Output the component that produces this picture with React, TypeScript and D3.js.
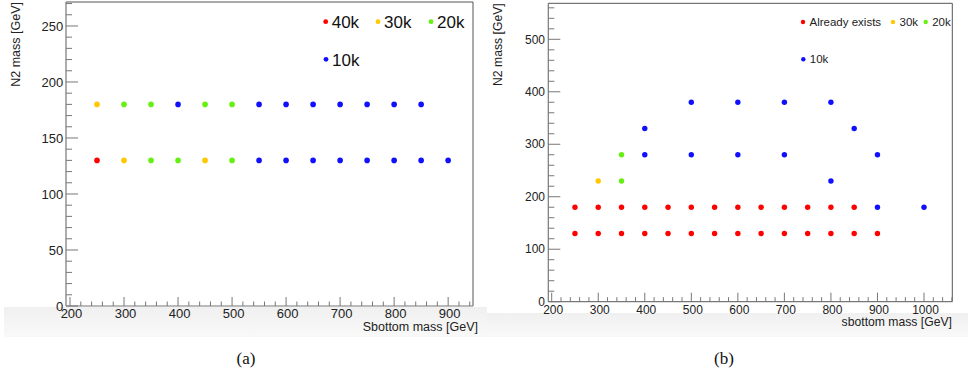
import React from "react";
import * as d3 from "d3";

// ---- Data ----
// Panel (a): sbottom mass vs N2 mass, colour = statistics requested
const aRed40k: [number, number][] = [[250, 130]];
const aYellow30k: [number, number][] = [[250, 180], [300, 130], [450, 130]];
const aGreen20k: [number, number][] = [
  [300, 180], [350, 180], [350, 130], [400, 130], [450, 180], [500, 180], [500, 130],
];
const aBlue10k: [number, number][] = [
  [400, 180], [550, 180], [600, 180], [650, 180], [700, 180], [750, 180], [800, 180], [850, 180],
  [550, 130], [600, 130], [650, 130], [700, 130], [750, 130], [800, 130], [850, 130], [900, 130],
];

// Panel (b)
const bRedExists: [number, number][] = [
  [250, 180], [300, 180], [350, 180], [400, 180], [450, 180], [500, 180], [550, 180], [600, 180],
  [650, 180], [700, 180], [750, 180], [800, 180], [850, 180],
  [250, 130], [300, 130], [350, 130], [400, 130], [450, 130], [500, 130], [550, 130], [600, 130],
  [650, 130], [700, 130], [750, 130], [800, 130], [850, 130], [900, 130],
];
const bYellow30k: [number, number][] = [[300, 230]];
const bGreen20k: [number, number][] = [[350, 280], [350, 230]];
const bBlue10k: [number, number][] = [
  [400, 330], [400, 280], [500, 380], [500, 280], [600, 380], [600, 280], [700, 380], [700, 280],
  [800, 380], [800, 230], [850, 330], [900, 280], [900, 180], [1000, 180],
];

const aYTicks = [0, 50, 100, 150, 200, 250];
const aXTicks = [200, 300, 400, 500, 600, 700, 800, 900];
const bYTicks = [0, 100, 200, 300, 400, 500];
const bXTicks = [200, 300, 400, 500, 600, 700, 800, 900, 1000];

const RED = "#ff0000";
const YELLOW = "#ffc800";
const GREEN = "#66f011";
const BLUE = "#1010ff";

const FONT = "'Liberation Sans', Arial, Helvetica, sans-serif";
const AXIS = "#777";
const FRAME = "#555";
const TXT = "#222";

type Series = { pts: [number, number][]; color: string };

function Panel(props: {
  x: d3.ScaleLinear<number, number>;
  y: d3.ScaleLinear<number, number>;
  xTicks: number[];
  yTicks: number[];
  xMinorStep: number;
  yMinorStep: number;
  xMinorMax: number;
  yMinorMax: number;
  tickFont: number;
  xLabelBaseline: number;
  yLabelX: number;
  series: Series[];
  r: number;
  yTitle: string;
  yTitleX: number;
  xTitle: string;
  xTitleX: number;
  xTitleY: number;
  titleFont: number;
}) {
  const { x, y } = props;
  const [x0, x1] = x.range();
  const [yb, yt] = y.range();
  const xMinor = d3.range(200, props.xMinorMax + 0.01, props.xMinorStep);
  const yMinor = d3.range(0, props.yMinorMax + 0.01, props.yMinorStep);
  return (
    <g>
      {/* frame */}
      <line x1={x0} x2={x1} y1={yt} y2={yt} stroke={FRAME} strokeWidth={1} />
      <line x1={x1} x2={x1} y1={yt} y2={yb} stroke={FRAME} strokeWidth={1} />
      {/* axes */}
      <line x1={x0} x2={x1} y1={yb} y2={yb} stroke={AXIS} strokeWidth={1.2} />
      <line x1={x0} x2={x0} y1={yt} y2={yb} stroke={AXIS} strokeWidth={1.2} />
      {/* y ticks */}
      {yMinor.map((v) => (
        <line key={"ym" + v} x1={x0} x2={x0 + (props.yTicks.includes(v) ? 12 : 6)} y1={y(v)} y2={y(v)} stroke={AXIS} strokeWidth={1} />
      ))}
      {/* x ticks */}
      {xMinor.map((v) => (
        <line key={"xm" + v} x1={x(v)} x2={x(v)} y1={yb} y2={yb - (props.xTicks.includes(v) ? 9 : 4.5)} stroke={AXIS} strokeWidth={1} />
      ))}
      {props.yTicks.map((v) => (
        <text key={"yl" + v} x={props.yLabelX} y={y(v)} dy="0.35em" textAnchor="end" fontFamily={FONT} fontSize={props.tickFont} fill={TXT}>
          {v}
        </text>
      ))}
      {props.xTicks.map((v) => (
        <text key={"xl" + v} x={x(v) + 1.5} y={props.xLabelBaseline} textAnchor="middle" fontFamily={FONT} fontSize={props.tickFont} fill={TXT}>
          {v}
        </text>
      ))}
      {/* titles */}
      <text transform={`translate(${props.yTitleX},${yt}) rotate(-90)`} textAnchor="end" fontFamily={FONT} fontSize={props.titleFont} fill={TXT}>
        {props.yTitle}
      </text>
      <text x={props.xTitleX} y={props.xTitleY} textAnchor="end" fontFamily={FONT} fontSize={props.titleFont} fill={TXT}>
        {props.xTitle}
      </text>
      {/* markers */}
      {props.series.map((s, i) =>
        s.pts.map(([a, b], j) => <circle key={i + "-" + j} cx={x(a)} cy={y(b)} r={props.r} fill={s.color} />)
      )}
    </g>
  );
}

export default function App() {
  const ax = d3.scaleLinear().domain([192.6, 946]).range([66, 473]);
  const ay = d3.scaleLinear().domain([0, 271.4]).range([306, 2]);
  const bx = d3.scaleLinear().domain([192.7, 1060.8]).range([548.3, 952.3]);
  const by = d3.scaleLinear().domain([0, 568.6]).range([301.7, 3.3]);

  const legendA = [
    { label: "40k", color: RED, x: 325.7, y: 21.7 },
    { label: "30k", color: YELLOW, x: 378, y: 21.7 },
    { label: "20k", color: GREEN, x: 431, y: 21.7 },
    { label: "10k", color: BLUE, x: 326, y: 59.3 },
  ];
  const legendB = [
    { label: "Already exists", color: RED, x: 803, y: 22 },
    { label: "30k", color: YELLOW, x: 893, y: 22 },
    { label: "20k", color: GREEN, x: 925.7, y: 22 },
    { label: "10k", color: BLUE, x: 803.3, y: 59.3 },
  ];

  return (
    <svg width={970} height={373} style={{ position: "absolute", left: 0, top: 0, background: "#fff" }}>
      <defs>
        <linearGradient id="band" x1="0" y1="0" x2="0" y2="1">
          <stop offset="0" stopColor="#f0f0f0" />
          <stop offset="1" stopColor="#f9f9f9" />
        </linearGradient>
      </defs>
      <rect x={0} y={0} width={970} height={373} fill="#fff" />
      <rect x={4} y={307} width={483} height={30} fill="url(#band)" />
      <rect x={487} y={313} width={481} height={24} fill="url(#band)" />
      <rect x={0} y={0} width={474} height={306.5} fill="#fff" />
      <rect x={548} y={0} width={405} height={302} fill="#fff" />

      <Panel
        x={ax}
        y={ay}
        xTicks={aXTicks}
        yTicks={aYTicks}
        xMinorStep={20}
        yMinorStep={10}
        xMinorMax={940}
        yMinorMax={270}
        tickFont={13}
        xLabelBaseline={318}
        yLabelX={63.3}
        series={[
          { pts: aRed40k, color: RED },
          { pts: aYellow30k, color: YELLOW },
          { pts: aGreen20k, color: GREEN },
          { pts: aBlue10k, color: BLUE },
        ]}
        r={2.8}
        yTitle="N2 mass [GeV]"
        yTitleX={19.5}
        xTitle="Sbottom mass [GeV]"
        xTitleX={478}
        xTitleY={331}
        titleFont={12.5}
      />
      <Panel
        x={bx}
        y={by}
        xTicks={bXTicks}
        yTicks={bYTicks}
        xMinorStep={20}
        yMinorStep={20}
        xMinorMax={1060}
        yMinorMax={560}
        tickFont={12}
        xLabelBaseline={313.5}
        yLabelX={545}
        series={[
          { pts: bRedExists, color: RED },
          { pts: bYellow30k, color: YELLOW },
          { pts: bGreen20k, color: GREEN },
          { pts: bBlue10k, color: BLUE },
        ]}
        r={2.7}
        yTitle="N2 mass [GeV]"
        yTitleX={501.5}
        xTitle="sbottom mass [GeV]"
        xTitleX={952}
        xTitleY={326}
        titleFont={12.2}
      />

      {legendA.map((l) => (
        <g key={"la" + l.label}>
          <circle cx={l.x} cy={l.y} r={2.4} fill={l.color} />
          <text x={l.x + 6} y={l.y + 6.4} fontFamily={FONT} fontSize={17} fill="#111">
            {l.label}
          </text>
        </g>
      ))}
      {legendB.map((l) => (
        <g key={"lb" + l.label}>
          <circle cx={l.x} cy={l.y} r={2.2} fill={l.color} />
          <text x={l.x + 6.5} y={l.y + 4} fontFamily={FONT} fontSize={11.5} fill="#222">
            {l.label}
          </text>
        </g>
      ))}

      <text x={246} y={364} textAnchor="middle" fontFamily="'Liberation Serif', 'Times New Roman', serif" fontSize={17} fill="#111">
        (a)
      </text>
      <text x={724} y={364} textAnchor="middle" fontFamily="'Liberation Serif', 'Times New Roman', serif" fontSize={17} fill="#111">
        (b)
      </text>
    </svg>
  );
}
